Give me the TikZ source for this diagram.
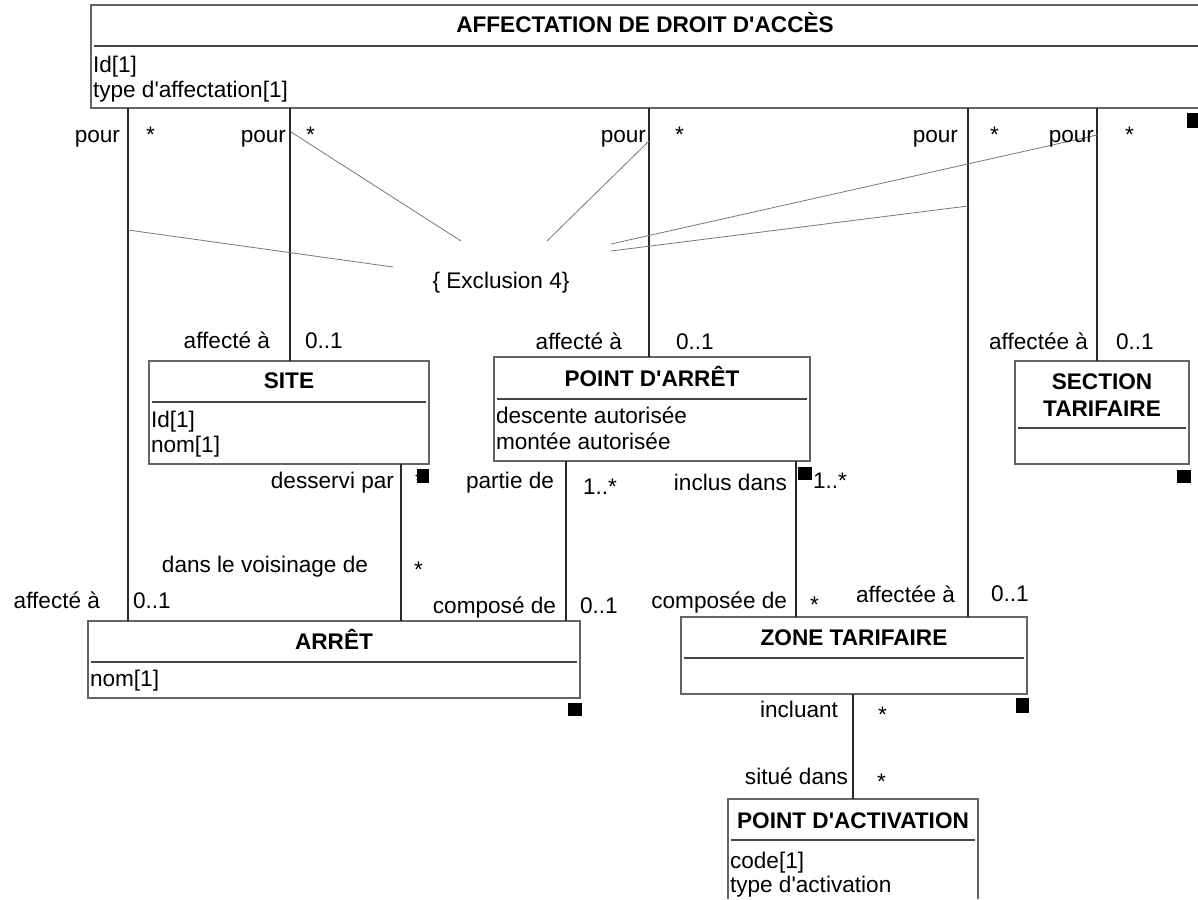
\documentclass[tikz,border=0pt]{standalone}
\usepackage{fontspec}
\setmainfont{Liberation Sans}
\usetikzlibrary{calc}
\definecolor{boxgray}{RGB}{100,100,100}
\definecolor{sepgray}{RGB}{70,70,70}
\definecolor{conngray}{RGB}{40,40,40}
\definecolor{exclgray}{RGB}{120,120,120}
\newcommand{\q}{\textquotesingle}
\begin{document}
\begin{tikzpicture}[x=1pt,y=-1pt,
  every node/.style={inner sep=0pt, outer sep=0pt, font=\fontsize{22.6}{26}\selectfont},
  box/.style={draw=boxgray, line width=1.4pt, anchor=north west},
  openbox/.style={draw=none, anchor=north west},
  boxline/.style={draw=boxgray, line width=1.4pt},
  ttl/.style={font=\fontsize{22.6}{26}\selectfont\bfseries, anchor=base},
  attr/.style={anchor=base west},
  lbl/.style={anchor=base east},
  mul/.style={anchor=base west},
  sepline/.style={draw=sepgray, line width=1.2pt},
  conn/.style={draw=conngray, line width=1.3pt},
  excl/.style={draw=exclgray, line width=0.8pt},
  sq/.style={fill=black}
]
\useasboundingbox[fill=white] (0,0) rectangle (1198,899);

% ---------- classes ----------
\node[openbox, minimum width=1107pt, minimum height=103pt] (aff) at (91,5) {};
\draw[boxline] (aff.north east) -- (aff.north west) -- (aff.south west) -- (aff.south east);
\node[ttl] (affT) at (645,33) {AFFECTATION DE DROIT D\q ACCÈS};
\draw[sepline] ($(aff.north west)+(3,41)$) -- ($(aff.north east)+(0,41)$);
\node[attr] (affA1) at ($(aff.north west)+(2,67)$) {Id[1]};
\node[attr] (affA2) at ($(aff.north west)+(2,92)$) {type d\q affectation[1]};

\node[box, minimum width=280pt, minimum height=103pt] (site) at (149,361) {};
\node[ttl] (siteT) at ($(site.north)+(0,27)$) {SITE};
\draw[sepline] ($(site.north west)+(3,41)$) -- ($(site.north east)+(-3,41)$);
\node[attr] (siteA1) at ($(site.north west)+(2,66)$) {Id[1]};
\node[attr] (siteA2) at ($(site.north west)+(2,91)$) {nom[1]};

\node[box, minimum width=316pt, minimum height=104pt] (pda) at (494,357) {};
\node[ttl] (pdaT) at ($(pda.north)+(0,29)$) {POINT D\q ARRÊT};
\draw[sepline] ($(pda.north west)+(3,42)$) -- ($(pda.north east)+(-3,42)$);
\node[attr] (pdaA1) at ($(pda.north west)+(2,66)$) {descente autorisée};
\node[attr] (pdaA2) at ($(pda.north west)+(2,92)$) {montée autorisée};

\node[box, minimum width=174pt, minimum height=103pt] (st) at (1015,361) {};
\node[ttl] (stT1) at ($(st.north)+(0,28)$) {SECTION};
\node[ttl] (stT2) at ($(st.north)+(0,55)$) {TARIFAIRE};
\draw[sepline] ($(st.north west)+(3,67)$) -- ($(st.north east)+(-3,67)$);

\node[box, minimum width=492pt, minimum height=77pt] (arret) at (88,621) {};
\node[ttl] (arretT) at ($(arret.north)+(0,28)$) {ARRÊT};
\draw[sepline] ($(arret.north west)+(3,41)$) -- ($(arret.north east)+(-3,41)$);
\node[attr] (arretA1) at ($(arret.north west)+(2,65)$) {nom[1]};

\node[box, minimum width=346pt, minimum height=77pt] (zt) at (681,617) {};
\node[ttl] (ztT) at ($(zt.north)+(0,28)$) {ZONE TARIFAIRE};
\draw[sepline] ($(zt.north west)+(3,41)$) -- ($(zt.north east)+(-3,41)$);

\node[openbox, minimum width=250pt, minimum height=100pt] (pact) at (728,799) {};
\draw[boxline] (pact.south west) -- (pact.north west) -- (pact.north east) -- (pact.south east);
\node[ttl] (pactT) at ($(pact.north)+(0,29)$) {POINT D\q ACTIVATION};
\draw[sepline] ($(pact.north west)+(3,41)$) -- ($(pact.north east)+(-3,41)$);
\node[attr] (pactA1) at ($(pact.north west)+(2,69)$) {code[1]};
\node[attr] (pactA2) at ($(pact.north west)+(2,93)$) {type d\q activation};

% ---------- connectors ----------
\coordinate (x1) at (128,0);
\coordinate (x2) at (290,0);
\coordinate (x3) at (649,0);
\coordinate (x4) at (968,0);
\coordinate (x5) at (1097,0);
\coordinate (x6) at (401,0);
\coordinate (x7) at (566,0);
\coordinate (x8) at (796,0);
\coordinate (x9) at (853,0);
\draw[conn] (aff.south -| x1) -- (arret.north -| x1);
\draw[conn] (aff.south -| x2) -- (site.north -| x2);
\draw[conn] (aff.south -| x3) -- (pda.north -| x3);
\draw[conn] (aff.south -| x4) -- (zt.north -| x4);
\draw[conn] (aff.south -| x5) -- (st.north -| x5);
\draw[conn] (site.south -| x6) -- (arret.north -| x6);
\draw[conn] (pda.south -| x7) -- (arret.north -| x7);
\draw[conn] (pda.south -| x8) -- (zt.north -| x8);
\draw[conn] (zt.south -| x9) -- (pact.north -| x9);

% ---------- exclusion constraint ----------
\node[anchor=base] (exc) at (501,288) {\{ Exclusion 4\}};
\coordinate (a1) at (128,230);
\coordinate (a2) at (291,132);
\coordinate (a3) at (649,141);
\coordinate (a4) at (1097,135);
\coordinate (a5) at (968,206);
\coordinate (e1) at (393,267);
\coordinate (e2) at (461,241);
\coordinate (e3) at (547,241);
\coordinate (e4) at (611,244);
\coordinate (e5) at (611,251);
\draw[excl] (a1) -- (e1);
\draw[excl] (a2) -- (e2);
\draw[excl] (a3) -- (e3);
\draw[excl] (a4) -- (e4);
\draw[excl] (a5) -- (e5);

% ---------- role labels ----------
\node[lbl] (p1) at (120,142) {pour};
\node[mul] (s1) at (146,142) {*};
\node[lbl] (p2) at (286,142) {pour};
\node[mul] (s2) at (306,142) {*};
\node[lbl] (p3) at (646,142) {pour};
\node[mul] (s3) at (675,142) {*};
\node[lbl] (p4) at (958,142) {pour};
\node[mul] (s4) at (990,142) {*};
\node[lbl] (p5) at (1094,142) {pour};
\node[mul] (s5) at (1125,142) {*};

\node[lbl] (l1) at (270,348) {affecté à};
\node[mul] (m1) at (305,348) {0..1};
\node[lbl] (l2) at (622,349) {affecté à};
\node[mul] (m2) at (676,349) {0..1};
\node[lbl] (l3) at (1088,349) {affectée à};
\node[mul] (m3) at (1116,349) {0..1};

\node[lbl] (l4) at (394,488) {desservi par};
\node[mul] (m4) at (415,488) {*};
\node[lbl] (l5) at (554,488) {partie de};
\node[mul] (m5) at (583,494) {1..*};
\node[lbl] (l6) at (787,490) {inclus dans};
\node[mul] (m6) at (813,488) {1..*};

\node[lbl] (l7) at (368,572) {dans le voisinage de};
\node[mul] (m7) at (414,577) {*};
\node[lbl] (l8) at (100,608) {affecté à};
\node[mul] (m8) at (133,608) {0..1};
\node[lbl] (l9) at (556,613) {composé de};
\node[mul] (m9) at (580,613) {0..1};
\node[lbl] (l10) at (787,608) {composée de};
\node[mul] (m10) at (810,612) {*};
\node[lbl] (l11) at (955,602) {affectée à};
\node[mul] (m11) at (991,601) {0..1};

\node[lbl] (l12) at (838,717) {incluant};
\node[mul] (m12) at (878,722) {*};
\node[lbl] (l13) at (848,784) {situé dans};
\node[mul] (m13) at (877,789) {*};

% ---------- small black squares ----------
\fill[sq] (1187,113) rectangle (1198,128);
\fill[sq] (417,469) rectangle (429,483);
\fill[sq] (798,467) rectangle (812,480);
\fill[sq] (1177,470) rectangle (1191,483);
\fill[sq] (568,703) rectangle (582,716);
\fill[sq] (1016,698) rectangle (1029,713);
\end{tikzpicture}
\end{document}
